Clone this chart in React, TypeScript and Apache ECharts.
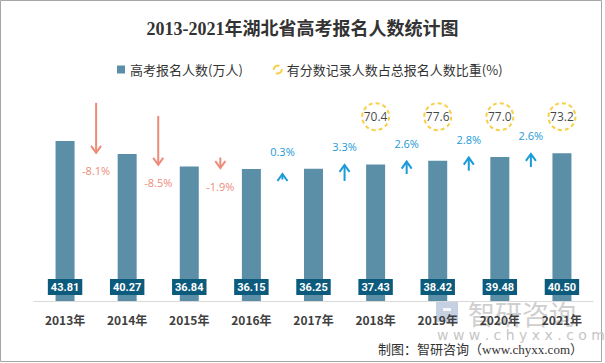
import React, { useEffect, useRef } from "react";
import * as echarts from "echarts";

const years = ["2013年", "2014年", "2015年", "2016年", "2017年", "2018年", "2019年", "2020年", "2021年"];
const applicants = [43.81, 40.27, 36.84, 36.15, 36.25, 37.43, 38.42, 39.48, 40.5];
const growthRates = [-8.1, -8.5, -1.9, 0.3, 3.3, 2.6, 2.8, 2.6];
// arrow tail / tip values (in 万人 scale), one per year-to-year change (2014..2021)
const arrowFrom = [54.3, 50.7, 39.3, 33.3, 32.9, 34.8, 35.7, 36.7];
const arrowTo = [40.6, 37.3, 36.4, 34.8, 37.3, 38.2, 39.3, 40.3];
const ratioYears = ["2018年", "2019年", "2020年", "2021年"];
const ratios = ["70.4", "77.6", "77.0", "73.2"];

const SALMON = "#ee8b78";
const BLUE = "#1b9ad8";
const BAR = "#5b8fa7";
const LABEL_BG = "#0c5a7c";
const YELLOW = "#f5c31a";
const CIRCLE_LEVEL = 50.5;

export default function App() {
  const ref = useRef<HTMLDivElement>(null);
  useEffect(() => {
    document.body.style.margin = "0";
    const chart = echarts.init(ref.current!, null, { renderer: "svg" });
    const arrowData = growthRates.map((r, k) => [k + 1, arrowFrom[k], arrowTo[k], r]);
    const circleData = ratioYears.map((y, k) => ({
      value: [years.indexOf(y), CIRCLE_LEVEL],
      ratio: ratios[k],
    }));
    chart.setOption({
      animation: false,
      textStyle: { fontFamily: "'Open Sans', 'Noto Sans CJK SC', sans-serif" },
      title: {
        text: "2013-2021年湖北省高考报名人数统计图",
        left: "center",
        top: 15,
        textStyle: {
          fontSize: 18,
          fontWeight: "bold",
          color: "#333",
          fontFamily: "'Liberation Serif', 'Noto Sans CJK SC', serif",
        },
      },
      legend: {
        left: 112,
        top: 58,
        itemWidth: 8,
        itemHeight: 8,
        itemGap: 30,
        textStyle: { fontSize: 13, color: "#333", fontFamily: "'Noto Sans CJK SC', sans-serif" },
        data: [
          { name: "高考报名人数(万人)", icon: "rect" },
          {
            name: "有分数记录人数占总报名人数比重(%)",
            icon: "circle",
            itemStyle: { color: "#fff", borderColor: YELLOW, borderWidth: 2, borderType: "dashed" },
          },
        ],
      },
      grid: { left: 34, right: 12, top: 82, bottom: 62 },
      xAxis: {
        type: "category",
        data: years,
        axisLine: { lineStyle: { color: "#d9d9d9" } },
        axisTick: { show: false },
        axisLabel: {
          color: "#404040",
          fontWeight: "bold",
          fontSize: 12,
          margin: 12,
          fontFamily: "'Noto Sans CJK SC', sans-serif",
        },
      },
      yAxis: { type: "value", min: 0, max: 60, show: false },
      series: [
        {
          name: "高考报名人数(万人)",
          type: "bar",
          data: applicants,
          barWidth: 19,
          itemStyle: { color: BAR },
          label: {
            show: true,
            position: "insideBottom",
            distance: 6,
            formatter: (p: any) => p.value.toFixed(2),
            color: "#fff",
            fontWeight: "bold",
            fontSize: 11,
            fontFamily: "Roboto, sans-serif",
            backgroundColor: LABEL_BG,
            padding: [3, 3, 2, 3],
          },
        },
        {
          name: "arrows",
          type: "custom",
          data: arrowData,
          z: 5,
          renderItem: (params: any, api: any) => {
            const i = api.value(0);
            const from = api.value(1);
            const to = api.value(2);
            const rate = api.value(3);
            const a = api.coord([i - 1, 0]);
            const b = api.coord([i, 0]);
            const x = (a[0] + b[0]) / 2;
            const y0 = api.coord([i, from])[1];
            const y1 = api.coord([i, to])[1];
            const down = rate < 0;
            const color = down ? SALMON : BLUE;
            const off = down ? -7 : 7;
            return {
              type: "group",
              children: [
                {
                  type: "line",
                  shape: { x1: x, y1: y0, x2: x, y2: y1 + (down ? -1 : 1) },
                  style: { stroke: color, lineWidth: 2 },
                },
                {
                  type: "polyline",
                  shape: { points: [[x - 5, y1 + off], [x, y1], [x + 5, y1 + off]] },
                  style: { stroke: color, lineWidth: 2, fill: null },
                },
                {
                  type: "text",
                  style: {
                    text: rate.toFixed(1) + "%",
                    x: x,
                    y: down ? y1 + 18 : y1 - (i === 4 ? 22 : 18),
                    align: "center",
                    verticalAlign: "middle",
                    fill: color,
                    fontSize: 11,
                    fontFamily: "'Open Sans', sans-serif",
                  },
                },
              ],
            };
          },
        },
        {
          name: "有分数记录人数占总报名人数比重(%)",
          type: "scatter",
          data: circleData,
          symbol: "circle",
          symbolSize: 27,
          z: 6,
          itemStyle: { color: "#fff", borderColor: YELLOW, borderWidth: 2, borderType: [4, 3] },
          label: {
            show: true,
            position: "inside",
            formatter: (p: any) => p.data.ratio,
            color: "#111",
            fontSize: 12,
            fontFamily: "'Open Sans', sans-serif",
          },
        },
      ],
      graphic: [
        {
          type: "rect",
          z: -10,
          shape: { x: 0.5, y: 0.5, width: 601, height: 361 },
          style: { fill: "none", stroke: "#a6a6a6", lineWidth: 1 },
        },
        {
          type: "rect",
          z: -5,
          shape: { x: 436, y: 302, width: 22, height: 20 },
          style: { fill: "rgba(110,140,185,0.4)" },
        },
        {
          type: "rect",
          z: -4,
          shape: { x: 443, y: 308, width: 8, height: 3 },
          style: { fill: "rgba(255,255,255,0.85)" },
        },
        {
          type: "text",
          z: -5,
          x: 468,
          y: 300,
          style: {
            text: "智研咨询",
            verticalAlign: "top",
            fontSize: 27,
            fill: "#cfcfcf",
            fontFamily: "'Noto Sans CJK SC', sans-serif",
          },
        },
        {
          type: "text",
          z: -5,
          x: 437,
          y: 328,
          style: {
            text: "w w w . c h y x x . c o m",
            verticalAlign: "top",
            fontSize: 14,
            fill: "#c6c6c6",
            fontFamily: "'DejaVu Sans', sans-serif",
          },
        },
        {
          type: "text",
          z: 10,
          x: 583,
          y: 349,
          style: {
            text: "制图：智研咨询（www.chyxx.com）",
            align: "right",
            verticalAlign: "middle",
            fontSize: 13,
            fill: "#333",
            fontFamily: "'Liberation Serif', 'Noto Sans CJK SC', serif",
          },
        },
      ],
    });
    return () => chart.dispose();
  }, []);
  return <div ref={ref} style={{ width: 605, height: 363 }} />;
}
